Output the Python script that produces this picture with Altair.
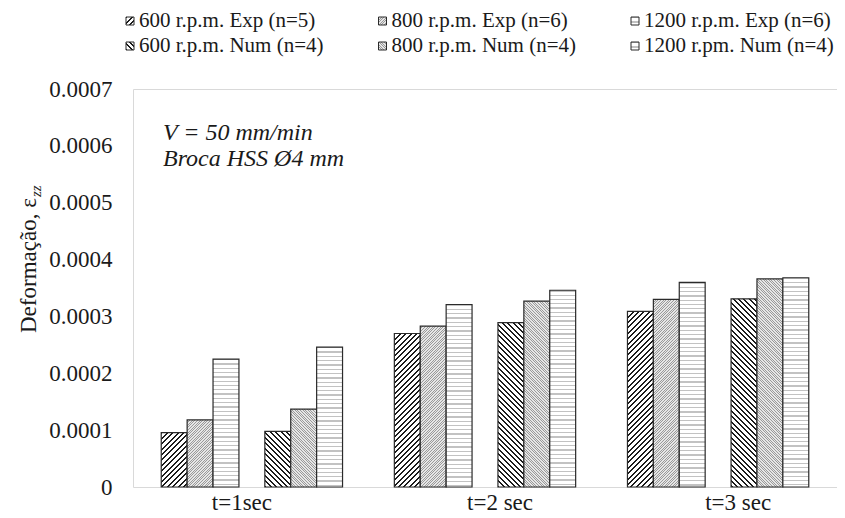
import altair as alt
import pandas as pd

# ---------------- data ----------------
categories = ["t=1sec", "t=2 sec", "t=3 sec"]
series = [
    "600 r.p.m. Exp (n=5)",
    "800 r.p.m. Exp (n=6)",
    "1200 r.p.m. Exp (n=6)",
    "600 r.p.m. Num (n=4)",
    "800 r.p.m. Num (n=4)",
    "1200 r.pm. Num (n=4)",
]
exp_600 = [0.0000957, 0.000270, 0.000309]
exp_800 = [0.000118, 0.000283, 0.000330]
exp_1200 = [0.000225, 0.000321, 0.000360]
num_600 = [0.000098, 0.000289, 0.000331]
num_800 = [0.000137, 0.000327, 0.000366]
num_1200 = [0.000246, 0.000346, 0.000368]
y_ticks = [0, 0.0001, 0.0002, 0.0003, 0.0004, 0.0005, 0.0006, 0.0007]
annotation = ["V = 50 mm/min", "Broca HSS Ø4 mm"]
y_title = ["Deformação, ε", "zz"]

series_values = [exp_600, exp_800, exp_1200, num_600, num_800, num_1200]

# ---------------- layout / style ----------------
FONT = "Liberation Serif"
PLOT_W = 704
PLOT_H = 398
Y_MAX = 0.0007
X_PAD_OUTER = 0.01
SLOTS = ["gap_a", series[0], series[1], series[2], "gap_b",
         series[3], series[4], series[5], "gap_c"]
STEP = PLOT_W / (len(categories) + 2 * X_PAD_OUTER)
SLOT_W = STEP / len(SLOTS)

patterns = {
    series[0]: dict(kind="/", period=5.4, line=2.0, ink="#1c1c1c", paper="#ffffff"),
    series[1]: dict(kind="/", period=2.6, line=1.0, ink="#9a9a9a", paper="#e6e6e6"),
    series[2]: dict(kind="-", period=4.3, line=1.3, ink="#c2c2c2", paper="#ffffff"),
    series[3]: dict(kind="\\", period=5.4, line=2.0, ink="#1c1c1c", paper="#ffffff"),
    series[4]: dict(kind="\\", period=2.6, line=1.0, ink="#9a9a9a", paper="#e6e6e6"),
    series[5]: dict(kind="-", period=4.3, line=1.3, ink="#c2c2c2", paper="#ffffff"),
}


def hatch(p, w, h):
    """Vega linear gradient drawing stripes with a fixed pixel period."""
    if p["kind"] == "-":
        L = h
        g = {"gradient": "linear", "x1": 0, "y1": 0, "x2": 0.000001, "y2": 1}
    else:
        r = h / w
        L = w + h
        a = L / (w * (1 + r * r))
        if p["kind"] == "/":
            g = {"gradient": "linear", "x1": 0, "y1": 0, "x2": a, "y2": a * r}
        else:
            g = {"gradient": "linear", "x1": 0, "y1": 1, "x2": a, "y2": 1 - a * r}
    stops = []
    s = 0.0
    while s < L:
        o1 = round(s / L, 5)
        o2 = round(min((s + p["line"]) / L, 1), 5)
        o3 = round(min((s + p["period"]) / L, 1), 5)
        stops += [
            {"offset": o1, "color": p["ink"]},
            {"offset": o2, "color": p["ink"]},
            {"offset": o2, "color": p["paper"]},
            {"offset": o3, "color": p["paper"]},
        ]
        s += p["period"]
    g["stops"] = stops
    return g


rows = []
for name, vals in zip(series, series_values):
    for cat, v in zip(categories, vals):
        rows.append({
            "category": cat,
            "series": name,
            "value": v,
            "grad": hatch(patterns[name], SLOT_W, v / Y_MAX * PLOT_H),
        })
bars_df = pd.DataFrame(rows)

legend_df = pd.DataFrame({
    "series": series,
    "lcol": [i % 3 for i in range(len(series))],
    "lrow": [i // 3 for i in range(len(series))],
    "grad": [hatch(patterns[s], 8, 8) for s in series],
})

label_offset = {
    "condition": [
        {"test": "datum.value === 't=1sec'", "value": -10},
        {"test": "datum.value === 't=3 sec'", "value": 20},
    ],
    "value": 15,
}

bars = alt.Chart(bars_df).mark_bar(stroke="#2a2a2a", strokeWidth=1.2).encode(
    x=alt.X(
        "category:N",
        sort=categories,
        scale=alt.Scale(domain=categories, paddingInner=0, paddingOuter=X_PAD_OUTER),
        axis=alt.Axis(
            title=None, ticks=False, domain=False, grid=False, labelAngle=0,
            labelFont=FONT, labelFontSize=23, labelColor="#1a1a1a",
            labelPadding=4, labelOffset=label_offset,
        ),
    ),
    xOffset=alt.XOffset("series:N", scale=alt.Scale(domain=SLOTS, paddingInner=0, paddingOuter=0)),
    y=alt.Y(
        "value:Q",
        scale=alt.Scale(domain=[0, Y_MAX], nice=False, zero=True),
        axis=alt.Axis(
            title=None, values=y_ticks, ticks=False, domain=False, grid=False,
            labelExpr="datum.value == 0 ? '0' : format(datum.value, '.4f')",
            labelFont=FONT, labelFontSize=23, labelColor="#1a1a1a", labelPadding=21,
        ),
    ),
    fill=alt.Fill("grad:N", scale=None, legend=None),
)

lx = alt.X("lcol:Q", scale=alt.Scale(domain=[0, 2], range=[-3, 502]), axis=None)
ly = alt.Y("lrow:Q", scale=alt.Scale(domain=[0, 1], range=[-68, -43]), axis=None)

legend_sq = alt.Chart(legend_df).mark_square(size=64, stroke="#2a2a2a", strokeWidth=1, opacity=1).encode(
    x=lx, y=ly, fill=alt.Fill("grad:N", scale=None, legend=None)
)
legend_txt = alt.Chart(legend_df).mark_text(
    align="left", baseline="middle", dx=9, font=FONT, fontSize=21, color="#1a1a1a"
).encode(x=lx, y=ly, text="series:N")

annot1 = alt.Chart().mark_text(
    text=annotation[0], align="left", baseline="alphabetic", font=FONT,
    fontSize=24, fontStyle="italic", color="#1a1a1a",
).encode(x=alt.value(30), y=alt.value(51))
annot2 = alt.Chart().mark_text(
    text=annotation[1], align="left", baseline="alphabetic", font=FONT,
    fontSize=24, fontStyle="italic", color="#1a1a1a",
).encode(x=alt.value(30), y=alt.value(77))

title_main = alt.Chart().mark_text(
    text=y_title[0], angle=270, align="left", baseline="alphabetic",
    font=FONT, fontSize=23, color="#1a1a1a",
).encode(x=alt.value(-97), y=alt.value(244))
title_sub = alt.Chart().mark_text(
    text=y_title[1], angle=270, align="left", baseline="alphabetic",
    font=FONT, fontSize=15, fontStyle="italic", color="#1a1a1a",
).encode(x=alt.value(-92), y=alt.value(108))

chart = alt.layer(
    bars, legend_sq, legend_txt, annot1, annot2, title_main, title_sub
).resolve_scale(
    x="independent", y="independent"
).properties(
    width=PLOT_W,
    height=PLOT_H,
    autosize=alt.AutoSizeParams(type="none"),
    padding={"left": 125, "top": 81, "right": 0, "bottom": 30},
).configure_view(
    stroke="#d9d9d9", strokeWidth=1
)

chart.save("out.html", embed_options={"renderer": "svg", "actions": False})
